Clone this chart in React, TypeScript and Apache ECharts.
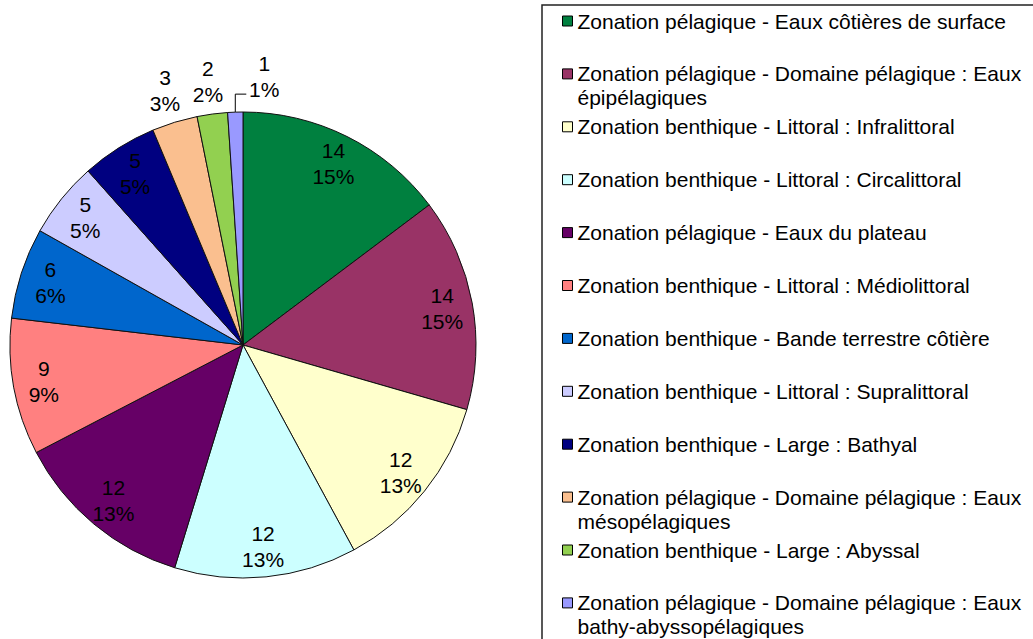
import React, { useEffect, useRef } from 'react';
import * as echarts from 'echarts';

const categories = [
  'Zonation pélagique - Eaux côtières de surface',
  'Zonation pélagique - Domaine pélagique : Eaux épipélagiques',
  'Zonation benthique - Littoral : Infralittoral',
  'Zonation benthique - Littoral : Circalittoral',
  'Zonation pélagique - Eaux du plateau',
  'Zonation benthique - Littoral : Médiolittoral',
  'Zonation benthique - Bande terrestre côtière',
  'Zonation benthique - Littoral : Supralittoral',
  'Zonation benthique - Large : Bathyal',
  'Zonation pélagique - Domaine pélagique : Eaux mésopélagiques',
  'Zonation benthique - Large : Abyssal',
  'Zonation pélagique - Domaine pélagique : Eaux bathy-abyssopélagiques',
];
const values = [14, 14, 12, 12, 12, 9, 6, 5, 5, 3, 2, 1];
const colors = [
  '#00803F', '#993366', '#FFFFCC', '#CCFFFF', '#660066', '#FF8080',
  '#0066CC', '#CCCCFF', '#000080', '#FABF8F', '#92D050', '#9999FF',
];
// where each slice label is drawn
const labelPlacement = [
  'inner', 'inner', 'inner', 'inner', 'inner', 'inner',
  'inner', 'inner', 'inner', 'outer', 'outer', 'leader',
];

const FONT = '"Liberation Sans", Arial, sans-serif';
const CX = 243;
const CY = 345;
const R = 233;

export default function App() {
  const ref = useRef<HTMLDivElement>(null);
  useEffect(() => {
    if (!ref.current) return;
    const chart = echarts.init(ref.current, undefined, { renderer: 'svg' });
    const labelFmt = '{c}\n{d}%';
    const labelText = { fontFamily: FONT, fontSize: 21, lineHeight: 26, color: '#000' };

    const pieData = categories.map((name, i) => ({
      name,
      value: values[i],
      itemStyle: { color: colors[i] },
    }));

    const legends = categories.map((name, i) => {
      const wrapped = name.includes(': Eaux ');
      const centerY = 21 + 52.9 * i;
      return {
        data: [name],
        orient: 'vertical',
        left: 562,
        top: wrapped ? centerY - 36 : centerY - 12,
        padding: 0,
        itemGap: 0,
        itemWidth: 10,
        itemHeight: 10,
        icon: 'rect',
        selectedMode: false,
        formatter: (n: string) =>
          n.includes(': Eaux ') ? '\n' + n.replace(': Eaux ', ': Eaux\n') : n,
        itemStyle: { borderColor: '#000', borderWidth: 1 },
        textStyle: {
          fontFamily: FONT,
          fontSize: 21,
          lineHeight: 24,
          color: '#000',
        },
      };
    });

    chart.setOption({
      animation: false,
      backgroundColor: '#fff',
      legend: legends,
      graphic: [
        {
          type: 'rect',
          shape: { x: 542, y: 5, width: 600, height: 700 },
          style: { fill: 'none', stroke: '#222', lineWidth: 1.5 },
          silent: true,
        },
      ],
      series: [
        {
          type: 'pie',
          center: [CX, CY],
          radius: R,
          startAngle: 90,
          clockwise: true,
          avoidLabelOverlap: false,
          percentPrecision: 0,
          minShowLabelAngle: 0,
          itemStyle: { borderColor: '#111', borderWidth: 1 },
          label: { show: false },
          labelLine: { show: false },
          emphasis: { disabled: true },
          data: pieData.map((d, i) =>
            labelPlacement[i] === 'leader'
              ? {
                  ...d,
                  label: { show: true, position: 'outside', formatter: labelFmt, ...labelText },
                  labelLine: { show: true, length: 18, length2: 11, lineStyle: { color: '#000', width: 1 } },
                }
              : d
          ),
          labelLayout: (p: any) => {
            if (labelPlacement[p.dataIndex] !== 'leader') return {};
            let x0 = p.rect.x + p.rect.width / 2;
            let y0 = p.rect.y;
            if (p.labelLinePoints && p.labelLinePoints.length) {
              x0 = p.labelLinePoints[0][0];
              y0 = p.labelLinePoints[0][1];
            }
            const y1 = y0 - 18;
            const x2 = x0 + 11;
            return {
              x: x2 + 18,
              y: y1 - 18,
              align: 'center',
              verticalAlign: 'middle',
              labelLinePoints: [[x0, y0], [x0, y1], [x2, y1]],
            };
          },
        },
        {
          type: 'pie',
          center: [CX, CY],
          radius: [166, R],
          startAngle: 90,
          clockwise: true,
          silent: true,
          avoidLabelOverlap: false,
          percentPrecision: 0,
          minShowLabelAngle: 0,
          itemStyle: { color: 'rgba(0,0,0,0)', borderWidth: 0 },
          labelLine: { show: false },
          label: { show: false },
          data: pieData.map((d, i) => ({
            name: d.name,
            value: d.value,
            label: labelPlacement[i] === 'inner'
              ? { show: true, position: 'inside', formatter: labelFmt, ...labelText }
              : { show: false },
          })),
        },
        {
          type: 'pie',
          center: [CX, CY],
          radius: [R, 293],
          startAngle: 90,
          clockwise: true,
          silent: true,
          avoidLabelOverlap: false,
          percentPrecision: 0,
          minShowLabelAngle: 0,
          itemStyle: { color: 'rgba(0,0,0,0)', borderWidth: 0 },
          labelLine: { show: false },
          label: { show: false },
          data: pieData.map((d, i) => ({
            name: d.name,
            value: d.value,
            label: labelPlacement[i] === 'outer'
              ? { show: true, position: 'inside', formatter: labelFmt, ...labelText }
              : { show: false },
          })),
        },
      ],
    });
    return () => chart.dispose();
  }, []);
  return (
    <div
      ref={ref}
      style={{ position: 'fixed', left: 0, top: 0, width: 1033, height: 639 }}
    />
  );
}
